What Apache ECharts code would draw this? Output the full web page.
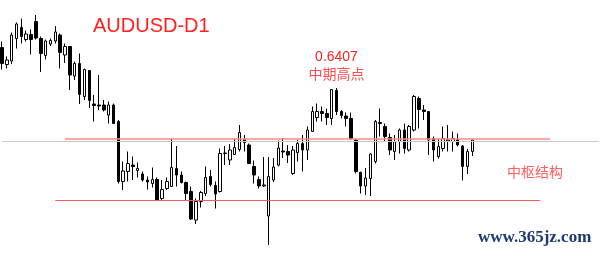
<!DOCTYPE html>
<html><head><meta charset="utf-8">
<script src="https://cdn.jsdelivr.net/npm/echarts@6/dist/echarts.min.js"></script>
<style>html,body{margin:0;padding:0;background:#fff}#c{width:601px;height:255px}</style>
</head><body><div id="c"></div>
<script>
// Daily candles (AUDUSD D1)
const open = [.6488,.6454,.6461,.6506,.6528,.6504,.6514,.6540,.6506,.6472,
.6495,.6501,.6513,.6473,.6490,.6431,.6456,.6390,.6442,.6375,
.6373,.6373,.6353,.6373,.6340,.6220,.6240,.6253,.6242,.6235,
.6223,.6216,.6224,.6186,.6206,.6210,.6246,.6233,.6218,.6200,
.6143,.6180,.6196,.6230,.6212,.6200,.6277,.6263,.6274,.6284,
.6304,.6293,.6250,.6224,.6211,.6151,.6223,.6253,.6281,.6280,
.6236,.6278,.6296,.6283,.6320,.6348,.6360,.6356,.6346,.6402,
.6360,.6351,.6346,.6303,.6238,.6211,.6226,.6260,.6338,.6330,
.6308,.6280,.6300,.6323,.6283,.6323,.6386,.6363,.6360,.6306,
.6270,.6286,.6301,.6300,.6304,.6291,.6250,.6280];
const close = [.6456,.6463,.6513,.6535,.6510,.6515,.6504,.6507,.6476,.6501,
.6502,.6519,.6478,.6490,.6433,.6456,.6394,.6444,.6382,.6372,
.6371,.6363,.6373,.6336,.6220,.6241,.6256,.6250,.6246,.6223,
.6219,.6224,.6183,.6204,.6220,.6248,.6233,.6218,.6196,.6145,
.6180,.6198,.6228,.6214,.6195,.6276,.6276,.6283,.6288,.6318,
.6298,.6256,.6233,.6211,.6213,.6230,.6249,.6287,.6279,.6273,
.6283,.6296,.6283,.6323,.6360,.6360,.6356,.6348,.6404,.6360,
.6352,.6346,.6306,.6240,.6211,.6227,.6275,.6340,.6336,.6310,
.6283,.6300,.6323,.6286,.6330,.6390,.6364,.6360,.6303,.6283,
.6290,.6306,.6303,.6306,.6293,.6250,.6280,.6303];
const low = [.6444,.6446,.6455,.6486,.6496,.6500,.6474,.6504,.6439,.6464,
.6491,.6496,.6446,.6457,.6403,.6423,.6375,.6383,.6367,.6340,
.6363,.6360,.6336,.6336,.6216,.6203,.6220,.6223,.6228,.6220,
.6204,.6208,.6183,.6183,.6203,.6210,.6210,.6216,.6183,.6143,
.6135,.6168,.6191,.6210,.6166,.6198,.6253,.6253,.6273,.6280,
.6280,.6256,.6216,.6206,.6209,.6093,.6219,.6250,.6267,.6257,
.6233,.6260,.6240,.6263,.6320,.6340,.6340,.6333,.6333,.6353,
.6346,.6330,.6303,.6236,.6196,.6193,.6191,.6256,.6310,.6300,
.6273,.6263,.6276,.6276,.6280,.6320,.6326,.6343,.6273,.6260,
.6266,.6280,.6280,.6280,.6290,.6222,.6235,.6271];
const high = [.6500,.6470,.6518,.6538,.6546,.6522,.6524,.6553,.6510,.6504,
.6506,.6531,.6516,.6496,.6491,.6460,.6476,.6446,.6443,.6393,
.6433,.6383,.6380,.6376,.6343,.6260,.6280,.6270,.6258,.6240,
.6230,.6248,.6228,.6223,.6228,.6306,.6291,.6240,.6220,.6210,
.6186,.6201,.6250,.6243,.6220,.6286,.6291,.6295,.6306,.6333,
.6313,.6296,.6262,.6230,.6269,.6269,.6267,.6302,.6307,.6293,
.6291,.6303,.6313,.6330,.6370,.6376,.6370,.6366,.6405,.6407,
.6363,.6358,.6358,.6306,.6240,.6247,.6276,.6343,.6366,.6336,
.6316,.6313,.6326,.6336,.6333,.6393,.6390,.6373,.6360,.6310,
.6306,.6330,.6333,.6320,.6316,.6293,.6285,.6305];
// category slots (trading days incl. empty space to the right)
const totalSlots = 124;
const categories = Array.from({length: totalSlots}, (_, i) => 'D' + (i + 1));
// annotation levels
const pivotHigh = 0.6306;   // 中枢上沿
const pivotLow = 0.6183;    // 中枢下沿
const lastPrice = 0.6302;   // current price line
const peakValue = '0.6407';
const titleText = 'AUDUSD-D1';
const peakLabel = '中期高点';
const zoneLabel = '中枢结构';
const siteText = 'www.365jz.com';

const data = open.map((o, i) => [o, close[i], low[i], high[i]]);

const chart = echarts.init(document.getElementById('c'), null, {renderer: 'canvas'});
chart.setOption({
  animation: false,
  backgroundColor: '#fff',
  grid: {left: 2, right: 2.7, top: 0, bottom: 0},
  xAxis: {type: 'category', data: categories, boundaryGap: false, show: false},
  yAxis: {type: 'value', min: 0.6073, max: 0.6583, show: false, splitLine: {show: false}},
  series: [{
    type: 'candlestick',
    data: data,
    barWidth: 3,
    clip: false,
    itemStyle: {color: '#fff', color0: '#000', borderColor: '#000', borderColor0: '#000', borderWidth: 1},
    markLine: {
      symbol: 'none', silent: true, label: {show: false}, animation: false,
      data: [
        {yAxis: lastPrice, lineStyle: {color: '#c8c8c8', width: 1, type: 'solid'}},
        [{coord: [13, pivotHigh], lineStyle: {color: '#ff8a8a', width: 1.5, type: 'solid'}}, {coord: [113, pivotHigh]}],
        [{coord: [11, pivotLow], lineStyle: {color: '#ff5a5a', width: 1, type: 'solid'}}, {coord: [111, pivotLow]}]
      ]
    }
  }],
  graphic: [
    {type: 'text', left: 93, top: 16, style: {text: titleText, font: '20px "Liberation Sans", Arial, sans-serif', fill: '#ff2020'}},
    {type: 'text', x: 336.5, y: 57, style: {text: peakValue, font: '14px "Liberation Sans", Arial, sans-serif', fill: '#ff2020', align: 'center', verticalAlign: 'middle'}},
    {type: 'text', x: 336.5, y: 74, style: {text: peakLabel, font: '14px "Noto Sans CJK SC", sans-serif', fill: '#ff4d4d', align: 'center', verticalAlign: 'middle'}},
    {type: 'text', x: 507, y: 172, style: {text: zoneLabel, font: '14px "Noto Sans CJK SC", sans-serif', fill: '#ff6060', align: 'left', verticalAlign: 'middle'}},
    {type: 'text', x: 478, y: 238, style: {text: siteText, font: 'bold 17px "Liberation Serif", serif', fill: '#1e3a6e', align: 'left', verticalAlign: 'middle'}}
  ]
});
</script>
</body></html>
